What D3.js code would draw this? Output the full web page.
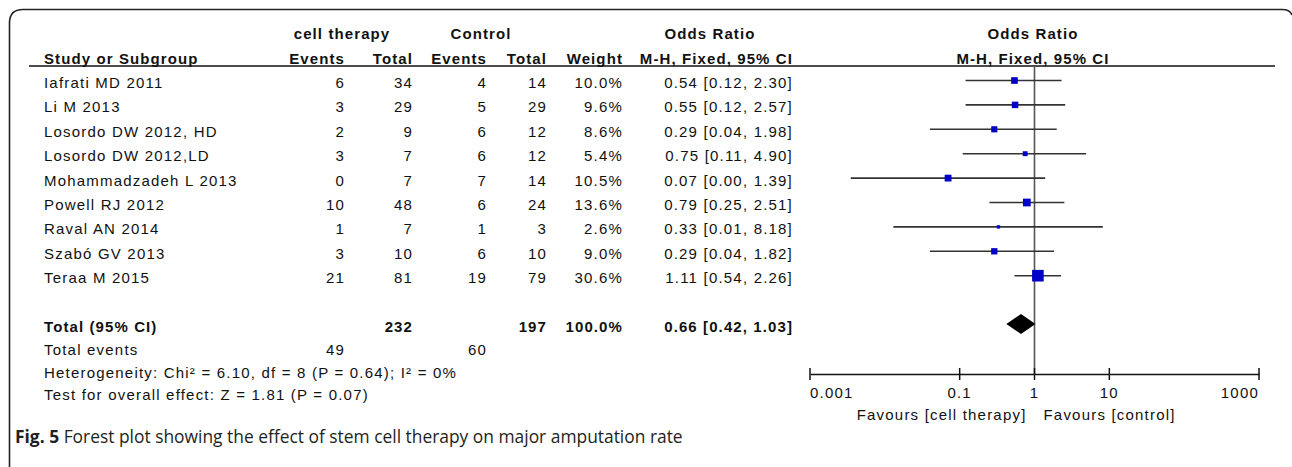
<!DOCTYPE html>
<html>
<head>
<meta charset="utf-8">
<script src="https://cdn.jsdelivr.net/npm/d3@7"></script>
<style>
  html, body { margin: 0; padding: 0; background: #fff; }
  svg { display: block; }
  .t { font-family: "Liberation Sans", Arial, sans-serif; font-size: 15px; fill: #111; letter-spacing: 1.2px; }
  .b { font-weight: bold; letter-spacing: 1.1px; }
  .cap { font-family: "Open Sans", "Noto Sans", sans-serif; font-size: 17.4px; fill: #231f20; }
</style>
</head>
<body>
<script>
// ---------------- data ----------------
const studies = ["Iafrati MD 2011", "Li M 2013", "Losordo DW 2012, HD", "Losordo DW 2012,LD",
  "Mohammadzadeh L 2013", "Powell RJ 2012", "Raval AN 2014", "Szabó GV 2013", "Teraa M 2015"];
const eventsCell = [6, 3, 2, 3, 0, 10, 1, 3, 21];
const totalCell = [34, 29, 9, 7, 7, 48, 7, 10, 81];
const eventsCtrl = [4, 5, 6, 6, 7, 6, 1, 6, 19];
const totalCtrl = [14, 29, 12, 12, 14, 24, 3, 10, 79];
const weights = [10.0, 9.6, 8.6, 5.4, 10.5, 13.6, 2.6, 9.0, 30.6];
const oddsRatio = [0.54, 0.55, 0.29, 0.75, 0.07, 0.79, 0.33, 0.29, 1.11];
const ciLow = [0.12, 0.12, 0.04, 0.11, 0.0035, 0.25, 0.013, 0.04, 0.54];
const ciHigh = [2.30, 2.57, 1.98, 4.90, 1.39, 2.51, 8.18, 1.82, 2.26];
const totalRow = { cellTotal: 232, ctrlTotal: 197, weight: "100.0%", or: 0.66, lo: 0.42, hi: 1.03 };
const totalEvents = [49, 60];
const axisTicks = [0.001, 0.1, 1, 10, 1000];
const axisTickLabels = ["0.001", "0.1", "1", "10", "1000"];
const heterogeneity = "Heterogeneity: Chi² = 6.10, df = 8 (P = 0.64); I² = 0%";
const overallTest = "Test for overall effect: Z = 1.81 (P = 0.07)";
const favourLeft = "Favours [cell therapy]";
const favourRight = "Favours [control]";
const captionBold = "Fig. 5";
const captionText = " Forest plot showing the effect of stem cell therapy on major amputation rate";

// ---------------- layout ----------------
const W = 1292, H = 467;
const svg = d3.select("body").append("svg").attr("width", W).attr("height", H);
svg.append("rect").attr("width", W).attr("height", H).attr("fill", "#fff");

// frame (top-left rounded, continues off canvas)
svg.append("path")
  .attr("d", "M9.5,470 L9.5,23 Q9.5,9.5 23,9.5 L1282,9.5 Q1290,9.5 1292,15")
  .attr("fill", "none").attr("stroke", "#222").attr("stroke-width", 1.6);

const x = d3.scaleLog().domain([0.001, 1000]).range([810, 1259]);
const y = d3.scalePoint().domain(studies).range([80.5, 275.7]);
const yTotal = 324, yEvents = 347, yHet = 370, yTest = 392, yAxis = 374;

const col = { name: 44, ev1: 345, tot1: 413, ev2: 487, tot2: 547, wt: 623, ortext: 793 };

function txt(xx, yy, s, anchor, bold) {
  return svg.append("text").attr("class", "t" + (bold ? " b" : ""))
    .attr("x", xx).attr("y", yy).attr("text-anchor", anchor || "start").text(s);
}

// headers
txt(342, 38.5, "cell therapy", "middle", true);
txt(481, 38.5, "Control", "middle", true);
txt(710, 38.5, "Odds Ratio", "middle", true);
txt(1033, 38.5, "Odds Ratio", "middle", true);
txt(col.name, 63.5, "Study or Subgroup", "start", true);
txt(col.ev1, 63.5, "Events", "end", true);
txt(col.tot1, 63.5, "Total", "end", true);
txt(col.ev2, 63.5, "Events", "end", true);
txt(col.tot2, 63.5, "Total", "end", true);
txt(col.wt, 63.5, "Weight", "end", true);
txt(col.ortext, 63.5, "M-H, Fixed, 95% CI", "end", true);
txt(1033, 63.5, "M-H, Fixed, 95% CI", "middle", true);

// header rule
svg.append("line").attr("x1", 29).attr("x2", 1275).attr("y1", 66).attr("y2", 66)
  .attr("stroke", "#111").attr("stroke-width", 1.5);

// null line
svg.append("line").attr("x1", x(1)).attr("x2", x(1)).attr("y1", 66).attr("y2", yAxis)
  .attr("stroke", "#555").attr("stroke-width", 1.6);

// study rows
const fmt = v => v.toFixed(2);
studies.forEach((s, i) => {
  const yy = y(s), ty = yy + 7.5;
  txt(col.name, ty, s);
  txt(col.ev1, ty, eventsCell[i], "end");
  txt(col.tot1, ty, totalCell[i], "end");
  txt(col.ev2, ty, eventsCtrl[i], "end");
  txt(col.tot2, ty, totalCtrl[i], "end");
  txt(col.wt, ty, weights[i].toFixed(1) + "%", "end");
  txt(col.ortext, ty, `${fmt(oddsRatio[i])} [${fmt(ciLow[i])}, ${fmt(ciHigh[i])}]`, "end");
});

const g = svg.append("g");
g.selectAll("line.ci").data(studies).join("line").attr("class", "ci")
  .attr("x1", (d, i) => x(ciLow[i])).attr("x2", (d, i) => x(ciHigh[i]))
  .attr("y1", d => y(d)).attr("y2", d => y(d))
  .attr("stroke", "#333").attr("stroke-width", 1.6);
g.selectAll("rect.pt").data(studies).join("rect").attr("class", "pt")
  .attr("width", (d, i) => 2.1 * Math.sqrt(weights[i]))
  .attr("height", (d, i) => 2.1 * Math.sqrt(weights[i]))
  .attr("x", (d, i) => x(oddsRatio[i]) - 1.05 * Math.sqrt(weights[i]))
  .attr("y", (d, i) => y(d) - 1.05 * Math.sqrt(weights[i]))
  .attr("fill", "#0000c8");

// total row
txt(col.name, yTotal + 7.5, "Total (95% CI)", "start", true);
txt(col.tot1, yTotal + 7.5, totalRow.cellTotal, "end", true);
txt(col.tot2, yTotal + 7.5, totalRow.ctrlTotal, "end", true);
txt(col.wt, yTotal + 7.5, totalRow.weight, "end", true);
txt(col.ortext, yTotal + 7.5, `${fmt(totalRow.or)} [${fmt(totalRow.lo)}, ${fmt(totalRow.hi)}]`, "end", true);
svg.append("path")
  .attr("d", `M${x(totalRow.lo)},${yTotal} L${x(totalRow.or)},${yTotal - 10} L${x(totalRow.hi)},${yTotal} L${x(totalRow.or)},${yTotal + 10} Z`)
  .attr("fill", "#000");

txt(col.name, yEvents + 7.5, "Total events");
txt(col.ev1, yEvents + 7.5, totalEvents[0], "end");
txt(col.ev2, yEvents + 7.5, totalEvents[1], "end");
txt(col.name, yHet + 7.5, heterogeneity);
txt(col.name, yTest + 7.5, overallTest);

// axis
const axis = d3.axisBottom(x).tickValues(axisTicks).tickSize(0).tickFormat(() => "");
const ag = svg.append("g").attr("transform", `translate(0,${yAxis})`).call(axis);
ag.select(".domain").attr("stroke", "#111").attr("stroke-width", 1.5);
ag.selectAll(".tick line").remove();
axisTicks.forEach((t, i) => {
  svg.append("line").attr("x1", x(t)).attr("x2", x(t)).attr("y1", yAxis - 6).attr("y2", yAxis + 6)
    .attr("stroke", "#111").attr("stroke-width", 1.5);
  const anchor = i === 0 ? "start" : (i === axisTicks.length - 1 ? "end" : "middle");
  txt(x(t), yAxis + 24, axisTickLabels[i], anchor);
});
txt(x(1) - 8, yAxis + 46, favourLeft, "end");
txt(x(1) + 9, yAxis + 46, favourRight, "start");

// caption
const cap = svg.append("text").attr("class", "cap").attr("x", 15).attr("y", 443);
cap.append("tspan").attr("font-weight", "bold").text(captionBold);
cap.append("tspan").text(captionText);
</script>
</body>
</html>
